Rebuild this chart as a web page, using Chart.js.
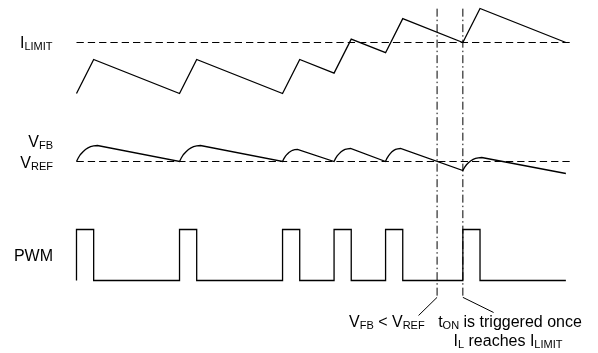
<!DOCTYPE html>
<html>
<head>
<meta charset="utf-8">
<script src="https://cdn.jsdelivr.net/npm/chart.js@4.4.1/dist/chart.umd.min.js"></script>
<style>
  html, body { margin: 0; padding: 0; background: #ffffff; }
  #wrap { width: 598px; height: 353px; position: relative; }
  canvas { display: block; }
</style>
</head>
<body>
<div id="wrap"><canvas id="c" width="598" height="353"></canvas></div>
<script>
// ---------- DATA (time in on-time units, amplitudes in arbitrary units) ----------
// Inductor current (A, arbitrary)
const iTimes  = [0, 1, 6, 7, 12, 13, 15, 16, 18, 19, 22.5, 23.5, 28.5];
const iValues = [0.5, 1.5, 0.5, 1.5, 0.5, 1.5, 1.1, 2.1, 1.7, 2.7, 2.0, 3.0, 2.0];
const iLimit = 2.0;
const refLineEnd = 28.95;

// Feedback voltage deviation from VREF (mV, arbitrary)
const vfbTimes = [
  0, 0.10, 0.23, 0.38, 0.52, 0.67, 0.82, 1.00, 1.22,
  6, 6.10, 6.23, 6.38, 6.52, 6.67, 6.82, 7.00, 7.22,
  12, 12.07, 12.17, 12.27, 12.37, 12.48, 12.58, 12.71, 12.87,
  15, 15.08, 15.18, 15.30, 15.41, 15.53, 15.64, 15.79, 15.96,
  18, 18.07, 18.17, 18.27, 18.37, 18.48, 18.58, 18.71, 18.87,
  22.5, 22.59, 22.71, 22.84, 22.97, 23.10, 23.24, 23.40, 23.60,
  28.5
];
const vfbValues = [
  0, 3.5, 7, 9.8, 12, 13.6, 14.9, 15.7, 16,
  0, 3.5, 7, 9.8, 12, 13.6, 14.9, 15.7, 16,
  0, 2.6, 5.3, 7.3, 9.0, 10.2, 11.2, 11.8, 12,
  0, 2.9, 5.7, 7.9, 9.8, 11.1, 12.1, 12.7, 13,
  0, 2.9, 5.7, 7.9, 9.8, 11.1, 12.1, 12.7, 13,
  -9, -6.1, -3.3, -1.1, 0.8, 2.1, 3.1, 3.7, 4,
  -12
];
const vRef = 0;

// PWM logic level
const pwmTimes  = [0, 0, 1, 1, 6, 6, 7, 7, 12, 12, 13, 13, 15, 15, 16, 16, 18, 18, 19, 19, 22.5, 22.5, 23.5, 23.5, 28.5];
const pwmLevels = [0, 1, 1, 0, 0, 1, 1, 0, 0, 1, 1, 0, 0, 1, 1, 0, 0, 1, 1, 0, 0, 1, 1, 0, 0];

// Event markers (time) : VFB < VREF, and IL reaches ILIMIT
const markerTimes = [21, 22.5];
const markerTop = 5.33;      // on PWM axis
const markerBottom = -0.33;
const leaderEndTimes  = [19.92, 24.29];
const leaderEndLevels = [-0.686, -0.627];

// ---------- BUILD ----------
const pts = (xs, ys) => xs.map((x, i) => ({ x: x, y: ys[i] }));
const black = '#000000';

const datasets = [
  { label: 'IL', data: pts(iTimes, iValues), yAxisID: 'yI', borderColor: black, borderWidth: 1.3 },
  { label: 'ILIMIT', data: pts([0, refLineEnd], [iLimit, iLimit]), yAxisID: 'yI', borderColor: black, borderWidth: 1.1, borderDash: [7.3, 4] },
  { label: 'VFB', data: pts(vfbTimes, vfbValues), yAxisID: 'yV', borderColor: black, borderWidth: 1.3 },
  { label: 'VREF', data: pts([0, refLineEnd], [vRef, vRef]), yAxisID: 'yV', borderColor: black, borderWidth: 1.1, borderDash: [7.3, 4] },
  { label: 'PWM', data: pts(pwmTimes, pwmLevels), yAxisID: 'yP', borderColor: black, borderWidth: 1.3 }
];
markerTimes.forEach((t, i) => {
  datasets.push({ label: 'marker' + i, data: pts([t, t], [markerTop, markerBottom]), yAxisID: 'yP',
    borderColor: black, borderWidth: 1, borderDash: [8, 3, 1.5, 3] });
  datasets.push({ label: 'leader' + i, data: pts([t, leaderEndTimes[i]], [markerBottom, leaderEndLevels[i]]), yAxisID: 'yP',
    borderColor: black, borderWidth: 1 });
});

const FONT = "'Liberation Sans', Arial, Helvetica, sans-serif";
function drawRich(ctx, parts, x, y, align) {
  const big = '16px ' + FONT, small = '11px ' + FONT;
  let w = 0;
  parts.forEach(p => { ctx.font = p[1] ? small : big; w += ctx.measureText(p[0]).width; });
  let cx = align === 'right' ? x - w : (align === 'center' ? x - w / 2 : x);
  ctx.textAlign = 'left';
  ctx.textBaseline = 'alphabetic';
  parts.forEach(p => {
    ctx.font = p[1] ? small : big;
    ctx.fillText(p[0], cx, p[1] ? y + 2 : y);
    cx += ctx.measureText(p[0]).width;
  });
}

const labelsPlugin = {
  id: 'labels',
  afterDatasetsDraw(chart) {
    const ctx = chart.ctx;
    const yI = chart.scales.yI, yV = chart.scales.yV, yP = chart.scales.yP;
    ctx.save();
    ctx.fillStyle = black;
    drawRich(ctx, [['I', 0], ['LIMIT', 1]], 20, yI.getPixelForValue(iLimit) + 6, 'left');
    drawRich(ctx, [['V', 0], ['FB', 1]], 53, yV.getPixelForValue(vRef) - 15, 'right');
    drawRich(ctx, [['V', 0], ['REF', 1]], 53, yV.getPixelForValue(vRef) + 6, 'right');
    drawRich(ctx, [['PWM', 0]], 53, yP.getPixelForValue(0.5) + 6, 'right');
    drawRich(ctx, [['V', 0], ['FB', 1], [' < V', 0], ['REF', 1]], 349, 327, 'left');
    drawRich(ctx, [['t', 0], ['ON', 1], [' is triggered once', 0]], 510, 327, 'center');
    drawRich(ctx, [['I', 0], ['L', 1], [' reaches I', 0], ['LIMIT', 1]], 508, 346, 'center');
    ctx.restore();
  }
};

new Chart(document.getElementById('c'), {
  type: 'line',
  data: { datasets: datasets },
  options: {
    responsive: false,
    animation: false,
    layout: { padding: 0 },
    plugins: { legend: { display: false }, tooltip: { enabled: false } },
    elements: { point: { radius: 0, hoverRadius: 0 }, line: { tension: 0, fill: false } },
    scales: {
      x:  { type: 'linear', display: false, min: -4.455, max: 30.371 },
      yI: { type: 'linear', display: false, min: -7.1323, max: 3.2497 },
      yV: { type: 'linear', display: false, min: -191.5, max: 161.5 },
      yP: { type: 'linear', display: false, min: -1.4212, max: 5.4998 }
    }
  },
  plugins: [labelsPlugin]
});
</script>
</body>
</html>
